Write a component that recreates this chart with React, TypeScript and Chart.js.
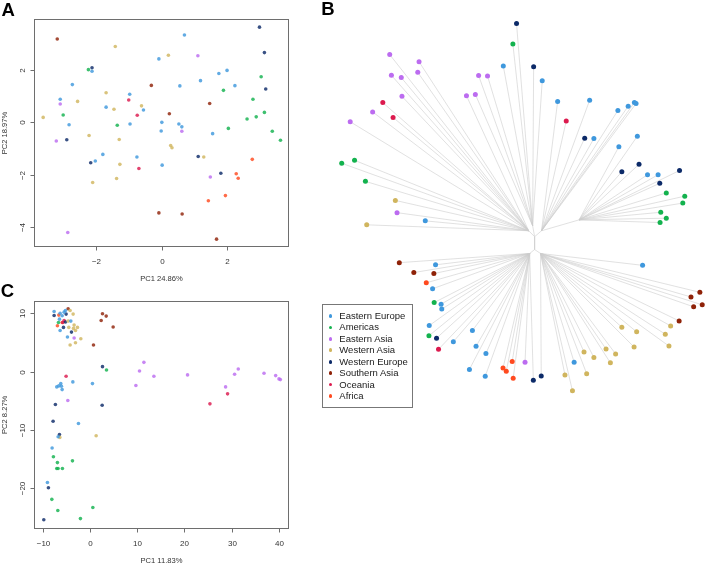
import { useEffect, useRef } from "react";
import { Chart, registerables } from "chart.js";

Chart.register(...registerables);

const FONT = '"Liberation Sans", Arial, Helvetica, sans-serif';

// ---------- regions ----------
const regionNames = ["Eastern Europe", "Americas", "Eastern Asia", "Western Asia", "Western Europe", "Southern Asia", "Oceania", "Africa"];
const regionCodes = ["EE", "AM", "EA", "WA", "WE", "SA", "OC", "AF"];
const regionColors = ["#3F98DD", "#13B24E", "#BC6CF0", "#D0B55E", "#0C2A68", "#8F2208", "#DC1A4E", "#FF4A1F"];

// ---------- panel A (PCA) ----------
const aTitleX = "PC1 24.86%";
const aTitleY = "PC2 18.97%";
const aXTicks = [-2, 0, 2];
const aXLabels = ["\u22122", "0", "2"];
const aYTicks = [-4, -2, 0, 2];
const aYLabels = ["\u22124", "\u22122", "0", "2"];
const aPc1 = [-3.19, -1.42, 0.69, 0.2, -0.09, 1.1, 2.98, 3.13, -2.24, -2.13,
  -2.13, -2.73, -0.32, 0.55, 1.18, 1.74, 1.99, 2.23, 1.88, 3.03,
  3.17, 2.78, 1.46, -1.7, -3.1, -3.1, -2.57, -3.01, -3.62, -2.83,
  -1.7, -1.46, -0.98, -1.01, -0.62, -0.56, -0.75, 0.23, -1.36, -0.97,
  0.0, -0.02, 0.52, 0.61, 0.61, 1.55, 2.03, 2.6, 2.88, 3.13,
  3.37, 3.62, -2.9, -2.22, -1.3, -3.22, -2.17, -2.03, -1.8, -1.28,
  -0.76, -0.7, 0.01, 0.27, 0.31, 1.11, 1.28, 2.76, 1.8, 2.27,
  2.33, 1.48, -2.11, -1.38, 1.94, 1.42, -0.09, 0.62, 1.67, -2.87];
const aPc2 = [3.18, 2.89, 3.33, 2.56, 2.42, 2.54, 3.63, 2.66, 2.01, 2.08,
  1.95, 1.44, 1.41, 1.39, 1.59, 1.86, 1.98, 1.4, 1.22, 1.74,
  1.27, 0.88, 0.72, 1.13, 0.88, 0.7, 0.8, 0.28, 0.19, -0.09,
  0.58, 0.5, 1.07, 0.85, 0.63, 0.47, 0.27, 0.33, -0.11, -0.06,
  0.0, -0.33, -0.06, -0.17, -0.34, -0.43, -0.23, 0.13, 0.21, 0.38,
  -0.34, -0.68, -0.66, -0.5, -0.65, -0.71, -1.54, -1.47, -1.22, -1.6,
  -1.32, -1.76, -1.63, -0.88, -0.97, -1.3, -1.32, -1.41, -1.94, -1.96,
  -2.13, -2.08, -2.29, -2.14, -2.79, -2.99, -3.45, -3.49, -4.45, -4.2];
const aRegion = ["SA", "WA", "EE", "WA", "EE", "EA", "WE", "WE", "AM", "WE",
  "EE", "EE", "SA", "EE", "EE", "EE", "EE", "EE", "AM", "AM",
  "WE", "AM", "SA", "WA", "EE", "EA", "WA", "AM", "WA", "EE",
  "EE", "WA", "EE", "OC", "WA", "EE", "OC", "SA", "AM", "EE",
  "EE", "EE", "EE", "EE", "EA", "EE", "AM", "AM", "AM", "AM",
  "AM", "AM", "WE", "WA", "WA", "EA", "WE", "EE", "EE", "WA",
  "EE", "OC", "EE", "WA", "WA", "WE", "WA", "AF", "WE", "AF",
  "AF", "EA", "WA", "WA", "AF", "AF", "SA", "SA", "SA", "EA"];

// ---------- panel C (PCA) ----------
const cTitleX = "PC1 11.83%";
const cTitleY = "PC2 8.27%";
const cXTicks = [-10, 0, 10, 20, 30, 40];
const cXLabels = ["\u221210", "0", "10", "20", "30", "40"];
const cYTicks = [-20, -10, 0, 10];
const cYLabels = ["\u221220", "\u221210", "0", "10"];
const cPc1 = [-7.64, -7.64, -6.37, -5.94, -5.52, -5.24, -5.1, -4.67, -4.25, -3.61,
  -6.65, -6.51, -6.72, -5.94, -5.52, -5.8, -5.24, -4.67, -4.1, -6.94,
  -6.37, -5.66, -4.53, -3.4, -3.54, -2.69, -3.11, -3.96, -4.81, -3.4,
  -1.98, -3.11, -4.25, 0.71, 2.62, 2.34, 3.4, 4.88, 2.62, 3.47,
  -5.1, -7.08, -6.65, -6.23, -6.09, -5.94, -3.67, 0.49, -7.37, -4.74,
  2.55, 9.7, 10.47, 11.4, 13.52, 20.66, 28.73, 29.15, 25.41, 30.64,
  31.42, 36.88, 39.35, 40.06, 40.34, -7.86, -2.48, -6.51, -6.79, -6.43,
  1.27, -8.07, -7.79, -6.94, -3.75, -7.08, -6.8, -5.88, -9.06, -8.85,
  -8.13, -6.86, 0.57, -2.06, -9.83];
const cPc2 = [10.3, 9.62, 10.0, 9.57, 10.2, 10.48, 9.86, 10.77, 10.48, 9.86,
  9.69, 9.0, 8.43, 8.43, 8.77, 8.43, 8.5, 8.66, 8.66, 7.86,
  7.06, 7.58, 7.58, 7.98, 7.41, 7.58, 7.06, 6.78, 5.93, 5.76,
  5.64, 4.96, 4.56, 4.56, 9.91, 8.77, 9.52, 7.64, 0.85, 0.28,
  -0.8, -2.62, -2.45, -2.05, -2.5, -3.08, -1.76, -2.05, -5.64, -4.96,
  -5.76, -2.39, 0.12, 1.59, -0.8, -0.56, -2.62, -3.81, -5.52, -0.46,
  0.46, -0.29, -0.68, -1.25, -1.37, -8.5, -8.89, -10.77, -11.17, -11.28,
  -11.0, -13.1, -14.6, -15.6, -15.3, -16.6, -16.6, -16.6, -19.0, -19.9,
  -21.9, -23.8, -23.3, -25.2, -25.4];
const cRegion = ["EE", "WE", "EE", "EE", "EE", "EE", "WE", "SA", "WA", "WA",
  "AF", "EE", "AM", "AF", "OC", "OC", "WE", "WA", "EE", "AF",
  "EE", "WE", "WA", "WA", "WA", "WA", "WA", "WE", "EE", "EA",
  "WA", "WA", "WA", "SA", "SA", "SA", "SA", "SA", "WE", "AM",
  "OC", "EE", "EE", "EE", "EE", "EE", "EE", "EE", "WE", "EA",
  "WE", "EA", "EA", "EA", "EA", "EA", "EA", "OC", "OC", "EA",
  "EA", "EA", "EA", "EA", "EA", "WE", "EE", "WE", "EE", "WA",
  "WA", "EE", "AM", "AM", "AM", "AM", "AM", "AM", "EE", "WE",
  "AM", "AM", "AM", "AM", "WE"];

// ---------- panel B (tree, layout units) ----------
const treeX = [516.7, 513, 503.3, 534, 542.7, 388.3, 418, 390, 400, 416.7,
  478.3, 487.3, 400.7, 466, 475, 381.3, 371, 391.7, 348.3, 558.3,
  590.7, 567, 619.3, 629.7, 636, 637.7, 639, 585.7, 595, 620.3,
  623.3, 640.7, 649.3, 660, 681.7, 661.7, 668.3, 687, 685, 662.7,
  668.3, 662, 339.7, 352.7, 363.7, 394, 395.7, 424.3, 365,
  398, 434.7, 644.3, 412.7, 433, 425.3, 431.7, 433.3, 440.3, 441,
  428.3, 428, 435.7, 437.7, 452.7, 472, 475.7, 485.7, 469, 485,
  503, 506.3, 512.3, 513.3, 525.3, 533.7, 541.7, 575, 565.7, 573.3,
  587.7, 585, 595, 607.3, 617, 611.7, 623.3, 638.3, 635.7, 672.7,
  667.3, 671, 681.3, 702.3, 693.3, 704.7, 696];
const treeY = [21.3, 42, 64.3, 65, 79.3, 52.7, 60, 73.7, 76, 70.7,
  74, 74.3, 95, 94.3, 93, 101.3, 110.7, 116.3, 120.7, 100.3,
  99, 120, 109.3, 105, 101.3, 102.3, 135.3, 137.3, 137.7, 146,
  171.3, 163.7, 174.3, 174.3, 170, 183, 192.7, 196, 203, 212.3,
  218.3, 222.7, 162.7, 159.7, 181, 200.3, 212.7, 221, 225,
  263.3, 265.5, 266, 273.3, 274.3, 283.7, 289.7, 303.7, 305.3, 310.3,
  327, 337.3, 339.7, 351, 343.3, 332, 348, 355.3, 371.3, 378.3,
  370, 373.3, 363.3, 380.3, 364, 382.3, 378, 364, 377, 393,
  375.7, 353.7, 359.3, 350.7, 355.7, 364.7, 328.7, 333.3, 348.7, 327.3,
  335.7, 347.7, 322.3, 293.3, 298, 306, 308];
const treeRegion = ["WE", "AM", "EE", "WE", "EE", "EA", "EA", "EA", "EA", "EA",
  "EA", "EA", "EA", "EA", "EA", "OC", "EA", "OC", "EA", "EE",
  "EE", "OC", "EE", "EE", "EE", "EE", "EE", "WE", "EE", "EE",
  "WE", "WE", "EE", "EE", "WE", "WE", "AM", "AM", "AM", "AM",
  "AM", "AM", "AM", "AM", "AM", "WA", "EA", "EE", "WA",
  "SA", "EE", "EE", "SA", "SA", "AF", "EE", "AM", "EE", "EE",
  "EE", "AM", "WE", "OC", "EE", "EE", "EE", "EE", "EE", "EE",
  "AF", "AF", "AF", "AF", "EA", "WE", "WE", "EE", "WA", "WA",
  "WA", "WA", "WA", "WA", "WA", "WA", "WA", "WA", "WA", "WA",
  "WA", "WA", "SA", "SA", "SA", "SA", "SA"];
// internal nodes of the tree
const nodeX = [535, 535, 529, 533, 542, 580, 530, 541];
const nodeY = [237, 250, 231, 226, 231, 220, 254, 254];
const nodeParent = [-1, 0, 0, 0, 0, 4, 1, 1];

function cladeOf(x: number, y: number): number {
  if (y < 240) {
    if (x < 470) return 2;
    if (x < 550) return 3;
    if (x >= 615 && y >= 130) return 5;
    return 4;
  }
  return x < 535 ? 6 : 7;
}

type AxisSpec = {
  xTicks: number[]; xLabels: string[]; yTicks: number[]; yLabels: string[];
  xTitle: string; yTitle: string;
};

function framePlugin(spec: AxisSpec) {
  return {
    id: "rFrame",
    afterDatasetsDraw(chart: any) {
      const { ctx, chartArea: a } = chart;
      const xs = chart.scales.x;
      const ys = chart.scales.y;
      const L = Math.round(a.left) + 0.5;
      const R = Math.round(a.right) - 0.5;
      const T = Math.round(a.top) + 0.5;
      const B = Math.round(a.bottom) - 0.5;
      ctx.save();
      ctx.strokeStyle = "#6e6e6e";
      ctx.lineWidth = 1;
      ctx.strokeRect(L, T, R - L, B - T);
      ctx.fillStyle = "#333333";
      ctx.font = `8px ${FONT}`;
      ctx.textAlign = "center";
      ctx.textBaseline = "alphabetic";
      spec.xTicks.forEach((v, i) => {
        const px = Math.round(xs.getPixelForValue(v)) + 0.5;
        ctx.beginPath();
        ctx.moveTo(px, B);
        ctx.lineTo(px, B + 4);
        ctx.stroke();
        ctx.fillText(spec.xLabels[i], px, B + 17);
      });
      spec.yTicks.forEach((v, i) => {
        const py = Math.round(ys.getPixelForValue(v)) + 0.5;
        ctx.beginPath();
        ctx.moveTo(L - 4, py);
        ctx.lineTo(L, py);
        ctx.stroke();
        ctx.save();
        ctx.translate(L - 9.5, py);
        ctx.rotate(-Math.PI / 2);
        ctx.fillText(spec.yLabels[i], 0, 0);
        ctx.restore();
      });
      ctx.font = `7.6px ${FONT}`;
      ctx.fillText(spec.xTitle, (a.left + a.right) / 2, B + 34);
      ctx.save();
      ctx.translate(6.5, (a.top + a.bottom) / 2);
      ctx.rotate(-Math.PI / 2);
      ctx.fillText(spec.yTitle, 0, 0);
      ctx.restore();
      ctx.restore();
    },
  };
}

function pcaDatasets(pc1: number[], pc2: number[], reg: string[]) {
  return regionCodes.map((code, k) => ({
    label: regionNames[k],
    data: pc1
      .map((x, i) => ({ x, y: pc2[i], r: reg[i] }))
      .filter((p) => p.r === code)
      .map((p) => ({ x: p.x, y: p.y })),
    backgroundColor: regionColors[k] + "d0",
    borderColor: regionColors[k] + "d0",
    borderWidth: 0,
    pointRadius: 1.8,
    pointHoverRadius: 1.8,
    clip: false as any,
  }));
}

function pcaConfig(pc1: number[], pc2: number[], reg: string[], xr: number[], yr: number[], padding: any, spec: AxisSpec): any {
  return {
    type: "scatter",
    data: { datasets: pcaDatasets(pc1, pc2, reg) },
    options: {
      responsive: false,
      animation: false,
      events: [],
      layout: { padding },
      plugins: { legend: { display: false }, tooltip: { enabled: false } },
      scales: {
        x: { type: "linear", display: false, min: xr[0], max: xr[1] },
        y: { type: "linear", display: false, min: yr[0], max: yr[1] },
      },
    },
    plugins: [framePlugin(spec)],
  };
}

function treeConfig(): any {
  const edges: any[] = [];
  const seg = (x1: number, y1: number, x2: number, y2: number) => {
    edges.push({ x: x1, y: y1 }, { x: x2, y: y2 }, { x: null, y: null });
  };
  nodeParent.forEach((p, i) => {
    if (p >= 0) seg(nodeX[p], nodeY[p], nodeX[i], nodeY[i]);
  });
  treeX.forEach((x, i) => {
    const h = cladeOf(x, treeY[i]);
    seg(nodeX[h], nodeY[h], x, treeY[i]);
  });
  const leafSets = regionCodes.map((code, k) => ({
    label: regionNames[k],
    data: treeX
      .map((x, i) => ({ x, y: treeY[i], r: treeRegion[i] }))
      .filter((p) => p.r === code)
      .map((p) => ({ x: p.x, y: p.y })),
    backgroundColor: regionColors[k],
    borderColor: regionColors[k],
    borderWidth: 0,
    pointRadius: 2.5,
    pointHoverRadius: 2.5,
    order: 0,
    clip: false,
  }));
  return {
    type: "scatter",
    data: {
      datasets: [
        ...leafSets,
        {
          label: "edges",
          data: edges,
          showLine: true,
          spanGaps: false,
          borderColor: "#cdcdcd",
          borderWidth: 0.6,
          pointRadius: 0,
          pointHoverRadius: 0,
          order: 1,
          clip: false,
        },
      ],
    },
    options: {
      responsive: false,
      animation: false,
      events: [],
      layout: { padding: 0 },
      plugins: { legend: { display: false }, tooltip: { enabled: false } },
      scales: {
        x: { type: "linear", display: false, min: 300, max: 708 },
        y: { type: "linear", display: false, min: 0, max: 420, reverse: true },
      },
    },
  };
}

export default function App() {
  const aRef = useRef<HTMLCanvasElement>(null);
  const bRef = useRef<HTMLCanvasElement>(null);
  const cRef = useRef<HTMLCanvasElement>(null);

  useEffect(() => {
    const charts: Chart[] = [];
    charts.push(
      new Chart(
        aRef.current!,
        pcaConfig(aPc1, aPc2, aRegion, [-3.9, 3.88], [-4.75, 3.94], { left: 34, top: 19, right: 11, bottom: 43 }, {
          xTicks: aXTicks, xLabels: aXLabels, yTicks: aYTicks, yLabels: aYLabels, xTitle: aTitleX, yTitle: aTitleY,
        })
      )
    );
    charts.push(
      new Chart(
        cRef.current!,
        pcaConfig(cPc1, cPc2, cRegion, [-11.91, 42.18], [-26.98, 12.16], { left: 34, top: 20.7, right: 11, bottom: 35 }, {
          xTicks: cXTicks, xLabels: cXLabels, yTicks: cYTicks, yLabels: cYLabels, xTitle: cTitleX, yTitle: cTitleY,
        })
      )
    );
    charts.push(new Chart(bRef.current!, treeConfig()));
    return () => charts.forEach((c) => c.destroy());
  }, []);

  const letter = (t: string, left: number, top: number) => (
    <div
      style={{
        position: "absolute", left, top, fontFamily: FONT, fontWeight: "bold",
        fontSize: "18.5px", lineHeight: "18.5px", color: "#000",
      }}
    >
      {t}
    </div>
  );

  return (
    <div style={{ position: "fixed", left: 0, top: 0, width: 708, height: 564, background: "#fff", overflow: "hidden" }}>
      <canvas ref={aRef} width={300} height={290} style={{ position: "absolute", left: 0, top: 0 }} />
      <canvas ref={cRef} width={300} height={284} style={{ position: "absolute", left: 0, top: 280 }} />
      <canvas ref={bRef} width={408} height={420} style={{ position: "absolute", left: 300, top: 0 }} />
      {letter("A", 1.5, 1)}
      {letter("B", 321.3, 0.3)}
      {letter("C", 0.8, 281.6)}
      <div
        style={{
          position: "absolute", left: 321.5, top: 304, width: 91, height: 103.5,
          border: "1px solid #777", boxSizing: "border-box",
        }}
      />
      {regionNames.map((name, i) => {
        const yc = 316 + i * 11.43;
        return (
          <div key={name}>
            <div
              style={{
                position: "absolute", left: 330.7 - 1.8, top: yc - 1.8, width: 3.6, height: 3.6,
                borderRadius: "50%", background: regionColors[i],
              }}
            />
            <div
              style={{
                position: "absolute", left: 339.3, top: yc - 6, height: 12, lineHeight: "12px",
                fontFamily: FONT, fontSize: "9.5px", color: "#1a1a1a", whiteSpace: "nowrap",
              }}
            >
              {name}
            </div>
          </div>
        );
      })}
    </div>
  );
}
